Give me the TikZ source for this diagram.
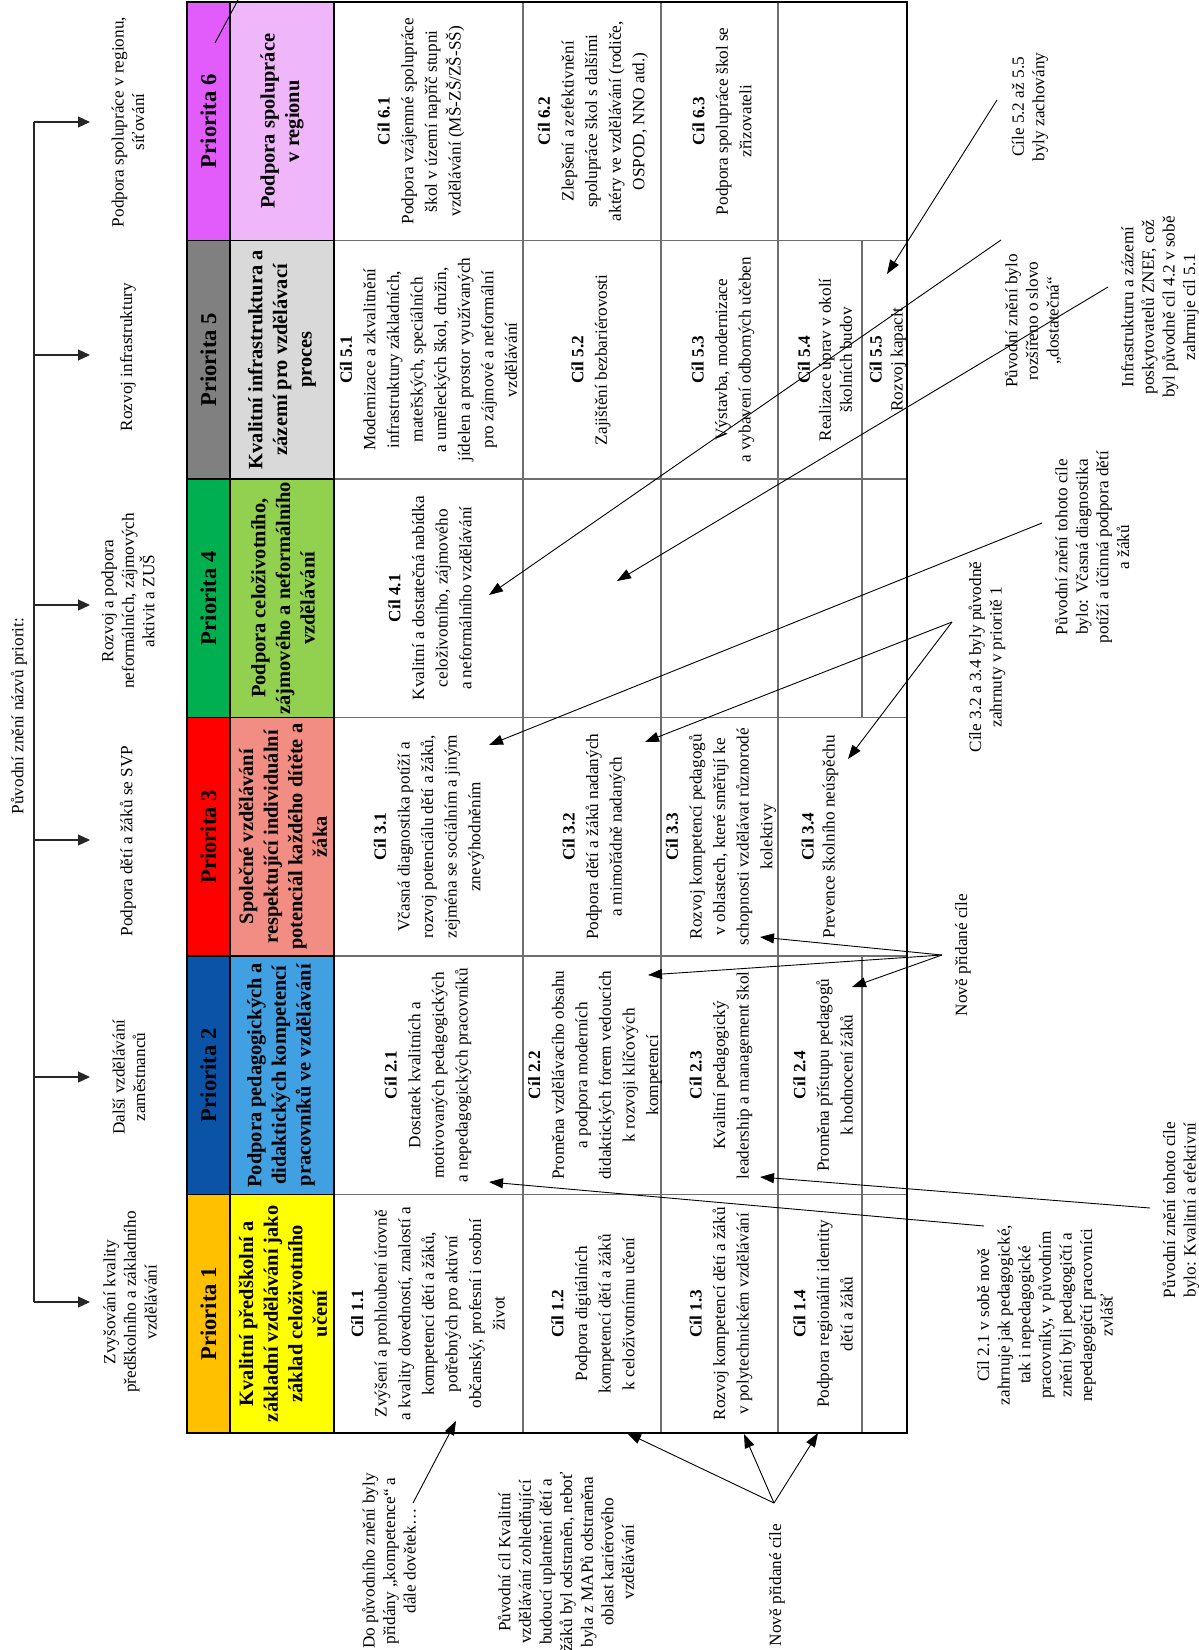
\documentclass[tikz,border=0pt]{standalone}
\usepackage{fontspec}
\setmainfont{Liberation Serif}
\usetikzlibrary{arrows.meta}
\definecolor{pSixA}{RGB}{225,92,250}
\definecolor{pSixB}{RGB}{240,182,250}
\definecolor{pFiveA}{RGB}{128,128,128}
\definecolor{pFiveB}{RGB}{217,217,217}
\definecolor{pFourA}{RGB}{0,176,80}
\definecolor{pFourB}{RGB}{146,208,80}
\definecolor{pThreeA}{RGB}{255,0,0}
\definecolor{pThreeB}{RGB}{241,141,130}
\definecolor{pTwoA}{RGB}{11,83,166}
\definecolor{pTwoB}{RGB}{64,160,225}
\definecolor{pOneA}{RGB}{255,192,0}
\definecolor{pOneB}{RGB}{255,255,0}
\definecolor{gridc}{RGB}{110,110,110}
\tikzset{
  txt/.style={rotate=90, align=center, inner sep=0pt, font=\fontsize{8.6}{10.3}\selectfont},
  cell/.style={rotate=90, align=center, inner sep=0pt, font=\fontsize{8.6}{11.8}\selectfont},
  cellnarrow/.style={rotate=90, align=center, inner sep=0pt, font=\fontsize{8.6}{10.5}\selectfont},
  subt/.style={rotate=90, align=center, inner sep=0pt, font=\bfseries\fontsize{10.2}{12.3}\selectfont},
  prio/.style={rotate=90, inner sep=0pt, font=\bfseries\fontsize{11.3}{13}\selectfont},
  arr/.style={-{Triangle[length=7pt,width=5pt]}, line width=0.45pt},
  brarr/.style={-{Triangle[length=6pt,width=5.5pt]}, line width=0.55pt, draw=black!85, fill=black!85},
  gridline/.style={draw=gridc, line width=0.6pt},
  headline/.style={draw=black, line width=0.6pt}
}
\begin{document}
\begin{tikzpicture}[x=0.5pt,y=-0.5pt]
\useasboundingbox (0,0) rectangle (1199,1650);

% ---------- title and bracket ----------
\node[txt] (title) at (19,716) {Původní znění názvů priorit:};
\coordinate (sp6) at (34,122);
\coordinate (sp5) at (34,355);
\coordinate (sp4) at (34,605);
\coordinate (sp3) at (34,840);
\coordinate (sp2) at (34,1077);
\coordinate (sp1) at (34,1302);
\coordinate (tp6) at (90,122);
\coordinate (tp5) at (90,355);
\coordinate (tp4) at (90,605);
\coordinate (tp3) at (90,840);
\coordinate (tp2) at (90,1077);
\coordinate (tp1) at (90,1302);
\draw[line width=0.55pt, black!85] (sp6) -- (sp1);
\foreach \i in {1,...,6}{\draw[brarr] (sp\i) -- (tp\i);}

\node[txt] (b6) at (128,122) {Podpora spolupráce v regionu,\\síťování};
\node[txt] (b5) at (128,357) {Rozvoj infrastruktury};
\node[txt] (b4) at (128,601) {Rozvoj a podpora\\neformálních, zájmových\\aktivit a ZUŠ};
\node[txt] (b3) at (128,841) {Podpora dětí a žáků se SVP};
\node[txt] (b2) at (129,1077) {Další vzdělávání\\zaměstnanců};
\node[txt] (b1) at (130,1302) {Zvyšování kvality\\předškolního a základního\\vzdělávání};

% ---------- table fills ----------
\fill[pSixA]   (187,2)      rectangle (230,240.5);
\fill[pSixB]   (230,2)      rectangle (334,240.5);
\fill[pFiveA]  (187,240.5)  rectangle (230,479);
\fill[pFiveB]  (230,240.5)  rectangle (334,479);
\fill[pFourA]  (187,479)    rectangle (230,717.5);
\fill[pFourB]  (230,479)    rectangle (334,717.5);
\fill[pThreeA] (187,717.5)  rectangle (230,956);
\fill[pThreeB] (230,717.5)  rectangle (334,956);
\fill[pTwoA]   (187,956)    rectangle (230,1194.5);
\fill[pTwoB]   (230,956)    rectangle (334,1194.5);
\fill[pOneA]   (187,1194.5) rectangle (230,1433);
\fill[pOneB]   (230,1194.5) rectangle (334,1433);

% ---------- grid ----------
\foreach \yy in {240.5,479,717.5,956,1194.5}{
  \draw[headline] (187,\yy) -- (334,\yy);
  \draw[gridline] (334,\yy) -- (907,\yy);
}
\draw[gridline] (523,2) -- (523,1433);
\draw[gridline] (661,2) -- (661,1433);
\draw[gridline] (778,2) -- (778,1433);
\draw[gridline] (862,240.5) -- (862,717.5);
\draw[gridline] (862,956) -- (862,1433);
\draw[headline] (230,2) -- (230,1433);
\draw[headline] (334,2) -- (334,1433);
\draw[black, line width=0.7pt] (187,2) rectangle (907,1433);

% ---------- priority headers ----------
\node[prio] (p6) at (208.5,121.25) {Priorita 6};
\node[prio] (p5) at (208.5,359.75) {Priorita 5};
\node[prio] (p4) at (208.5,598.25) {Priorita 4};
\node[prio] (p3) at (208.5,836.75) {Priorita 3};
\node[prio] (p2) at (208.5,1075.25) {Priorita 2};
\node[prio] (p1) at (208.5,1313.75) {Priorita 1};

\node[subt] (s6) at (282,121.25) {Podpora spolupráce\\v regionu};
\node[subt] (s5) at (282,359.75) {Kvalitní infrastruktura a\\zázemí pro vzdělávací\\proces};
\node[subt] (s4) at (283,598.25) {Podpora celoživotního,\\zájmového a neformálního\\vzdělávání};
\node[subt] (s3) at (283,836.75) {Společné vzdělávání\\respektující individuální\\potenciál každého dítěte a\\žáka};
\node[subt] (s2) at (281,1075.25) {Podpora pedagogických a\\didaktických kompetencí\\pracovníků ve vzdělávání};
\node[subt] (s1) at (283,1313.75) {Kvalitní předškolní a\\základní vzdělávání jako\\základ celoživotního\\učení};

% ---------- cells ----------
\node[cell] (c61) at (421,121.25) {\textbf{Cíl 6.1}\\Podpora vzájemné spolupráce\\škol v území napříč stupni\\vzdělávání (MŠ-ZŠ/ZŠ-SŠ)};
\node[cell] (c62) at (593,121.25) {\textbf{Cíl 6.2}\\Zlepšení a zefektivnění\\spolupráce škol s dalšími\\aktéry ve vzdělávání (rodiče,\\OSPOD, NNO atd.)};
\node[cell] (c63) at (722,121.25) {\textbf{Cíl 6.3}\\Podpora spolupráce škol se\\zřizovateli};

\node[cell] (c51) at (428.5,359.75) {\textbf{Cíl 5.1}\\Modernizace a zkvalitnění\\infrastruktury základních,\\mateřských, speciálních\\a uměleckých škol, družin,\\jídelen a prostor využívaných\\pro zájmové a neformální\\vzdělávání};
\node[cell] (c52) at (591,359.75) {\textbf{Cíl 5.2}\\Zajištění bezbariérovosti};
\node[cell] (c53) at (723,359.75) {\textbf{Cíl 5.3}\\Výstavba, modernizace\\a vybavení odborných učeben};
\node[cellnarrow] (c54) at (825,359.75) {\textbf{Cíl 5.4}\\Realizace úprav v okolí\\školních budov};
\node[cellnarrow] (c55) at (888,359.75) {\textbf{Cíl 5.5}\\Rozvoj kapacit};

\node[cell] (c41) at (430,598.25) {\textbf{Cíl 4.1}\\Kvalitní a dostatečná nabídka\\celoživotního, zájmového\\a neformálního vzdělávání};

\node[cell] (c31) at (429,836.75) {\textbf{Cíl 3.1}\\Včasná diagnostika potíží a\\rozvoj potenciálu dětí a žáků,\\zejména se sociálním a jiným\\znevýhodněním};
\node[cell] (c32) at (594,836.75) {\textbf{Cíl 3.2}\\Podpora dětí a žáků nadaných\\a mimořádně nadaných};
\node[cell] (c33) at (721,836.75) {\textbf{Cíl 3.3}\\Rozvoj kompetencí pedagogů\\v oblastech, které směřují ke\\schopnosti vzdělávat různorodé\\kolektivy};
\node[cellnarrow] (c34) at (820,836.75) {\textbf{Cíl 3.4}\\Prevence školního neúspěchu};

\node[cell] (c21) at (428,1075.25) {\textbf{Cíl 2.1}\\Dostatek kvalitních a\\motivovaných pedagogických\\a nepedagogických pracovníků};
\node[cell] (c22) at (595,1075.25) {\textbf{Cíl 2.2}\\Proměna vzdělávacího obsahu\\a podpora moderních\\didaktických forem vedoucích\\k rozvoji klíčových\\kompetencí};
\node[cell] (c23) at (721,1075.25) {\textbf{Cíl 2.3}\\Kvalitní pedagogický\\leadership a management škol};
\node[cell] (c24) at (823,1075.25) {\textbf{Cíl 2.4}\\Proměna přístupu pedagogů\\k hodnocení žáků};

\node[cell] (c11) at (428,1313.75) {\textbf{Cíl 1.1}\\Zvýšení a prohloubení úrovně\\a kvality dovedností, znalostí a\\kompetencí dětí a žáků,\\potřebných pro aktivní\\občanský, profesní i osobní\\život};
\node[cell] (c12) at (593,1313.75) {\textbf{Cíl 1.2}\\Podpora digitálních\\kompetencí dětí a žáků\\k celoživotnímu učení};
\node[cell] (c13) at (721,1313.75) {\textbf{Cíl 1.3}\\Rozvoj kompetencí dětí a žáků\\v polytechnickém vzdělávání};
\node[cell] (c14) at (823,1313.75) {\textbf{Cíl 1.4}\\Podpora regionální identity\\dětí a žáků};

% ---------- annotations ----------
\node[txt] (a52) at (1030,107) {Cíle 5.2 až 5.5\\byly zachovány};
\node[txt] (aDost) at (1033,321) {Původní znění bylo\\rozšířeno o slovo\\„dostatečná“};
\node[txt] (aZnef) at (1160,307) {Infrastrukturu a zázemí\\poskytovatelů ZNEF, což\\byl původně cíl 4.2 v sobě\\zahrnuje cíl 5.1};
\node[txt] (aVcas) at (1092,547) {Původní znění tohoto cíle\\bylo: Včasná diagnostika\\potíží a účinná podpora dětí\\a žáků};
\node[txt] (a3234) at (987,657) {Cíle 3.2 a 3.4 byly původně\\zahrnuty v prioritě 1};
\node[txt] (aNove1) at (963,955) {Nově přidané cíle};
\node[txt] (a21) at (1045,1315) {Cíl 2.1 v sobě nově\\zahrnuje jak pedagogické,\\tak i nepedagogické\\pracovníky, v původním\\znění byli pedagogičtí a\\nepedagogičtí pracovníci\\zvlášť};
\node[txt] (aKval) at (1181,1210) {Původní znění tohoto cíle\\bylo: Kvalitní a efektivní};
\node[txt] (aDo) at (389,1561) {Do původního znění byly\\přidány „kompetence“ a\\dále dovětek…};
\node[txt] (aPuv) at (566,1562) {Původní cíl Kvalitní\\vzdělávání zohledňující\\budoucí uplatnění dětí a\\žáků byl odstraněn, neboť\\byla z MAPů odstraněna\\oblast kariérového\\vzdělávání};
\node[txt] (aNove2) at (777,1585) {Nově přidané cíle};

% ---------- connector points ----------
\coordinate (k52s) at (997,100);   \coordinate (k52e) at (887,274);
\coordinate (kDs) at (1001,240);   \coordinate (kDe) at (489,595);
\coordinate (kZs) at (1108,287);   \coordinate (kZe) at (617,581);
\coordinate (kVs) at (1042,523);   \coordinate (kVe) at (489,745);
\coordinate (k34a) at (952,622);   \coordinate (k34e1) at (645,742); \coordinate (k34e2) at (848,759);
\coordinate (kN1a) at (942,955);   \coordinate (kN1e1) at (760,937); \coordinate (kN1e2) at (648,975); \coordinate (kN1e3) at (852,987);
\coordinate (k21s) at (984,1226);  \coordinate (k21e) at (489,1182);
\coordinate (kKs) at (1150,1208);  \coordinate (kKe) at (760,1177);
\coordinate (kDos) at (413,1503);  \coordinate (kDoe) at (456,1421);
\coordinate (kN2a) at (774,1503);  \coordinate (kN2e1) at (627,1433); \coordinate (kN2e2) at (744,1434); \coordinate (kN2e3) at (818,1433);
\coordinate (kTs) at (215,43);     \coordinate (kTe) at (238,0);

\draw[arr] (k52s) -- (k52e);
\draw[arr] (kDs) -- (kDe);
\draw[arr] (kZs) -- (kZe);
\draw[arr] (kVs) -- (kVe);
\draw[arr] (k34a) -- (k34e1);
\draw[arr] (k34a) -- (k34e2);
\draw[arr] (kN1a) -- (kN1e1);
\draw[arr] (kN1a) -- (kN1e2);
\draw[arr] (kN1a) -- (kN1e3);
\draw[arr] (k21s) -- (k21e);
\draw[arr] (kKs) -- (kKe);
\draw[arr] (kDos) -- (kDoe);
\draw[arr] (kN2a) -- (kN2e1);
\draw[arr] (kN2a) -- (kN2e2);
\draw[arr] (kN2a) -- (kN2e3);
\draw[line width=0.45pt] (kTs) -- (kTe);
\end{tikzpicture}
\end{document}
